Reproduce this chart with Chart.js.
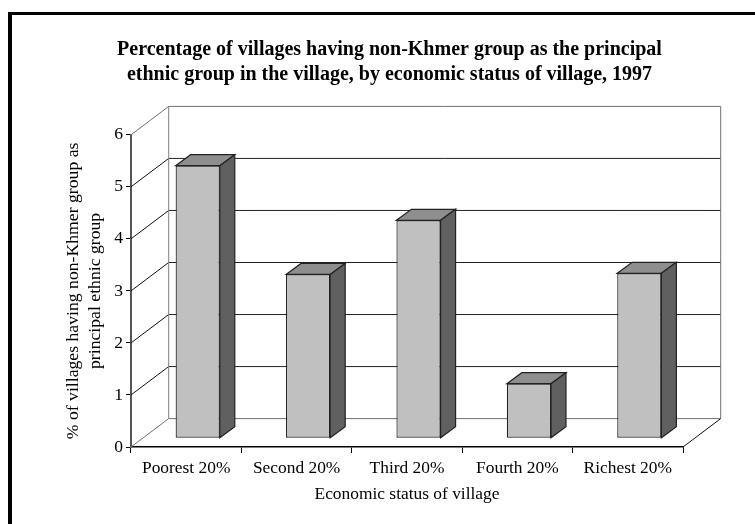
<!DOCTYPE html>
<html>
<head>
<meta charset="utf-8">
<script src="https://cdn.jsdelivr.net/npm/chart.js@4"></script>
<style>
    html, body { margin: 0; padding: 0; background: #fff; overflow: hidden; }
    #frame { position: absolute; left: 8px; top: 12px; right: 0; bottom: 0; border-left: 4px solid #000; border-top: 3px solid #000; }
    #chart-box { position: absolute; left: 0; top: 0; width: 755px; height: 524px; }
</style>
</head>
<body>
<div id="frame"></div>
<div id="chart-box"><canvas id="villages-chart" width="755" height="524"></canvas></div>
<script>
// --- Data ---
const categories = ['Poorest 20%', 'Second 20%', 'Third 20%', 'Fourth 20%', 'Richest 20%'];
const percentValues = [5.24, 3.15, 4.19, 1.05, 3.17];
const chartTitle = ['Percentage of villages having non-Khmer group as the principal', 'ethnic group in the village, by economic status of village, 1997'];
const xAxisTitle = 'Economic status of village';
const yAxisTitle = ['% of villages having non-Khmer group as', 'principal ethnic group'];

// --- 3D look ---
const wallDepth = { x: 37.7, y: 28.4 };
const barDepth = { x: 15, y: 11 };
const barShift = { x: 11.5, y: 8.7 };
const titleShift = 48;

const walls3d = {
    id: 'walls3d',
    afterLayout(chart) {
        chart.titleBlock.left += titleShift;
        chart.titleBlock.right += titleShift;
    },
    beforeDatasetsDraw(chart) {
        const { ctx, chartArea: area, scales: { y } } = chart;
        const backLeft = area.left + wallDepth.x;
        const backRight = area.right + wallDepth.x;
        const line = (x1, y1, x2, y2, color) => {
            ctx.strokeStyle = color;
            ctx.beginPath();
            ctx.moveTo(x1, y1);
            ctx.lineTo(x2, y2);
            ctx.stroke();
        };
        ctx.save();
        ctx.lineWidth = 1;
        y.ticks.forEach(tick => {
            const py = y.getPixelForValue(tick.value);
            const isEdge = tick.value === 0 || tick.value === 6;
            line(area.left, py, backLeft, py - wallDepth.y, isEdge ? '#707070' : '#111');
            line(backLeft, py - wallDepth.y, backRight, py - wallDepth.y, isEdge ? '#707070' : '#222');
        });
        const topBack = y.getPixelForValue(6) - wallDepth.y;
        const floorBack = y.getPixelForValue(0) - wallDepth.y;
        line(backLeft, topBack, backLeft, floorBack, '#808080');
        line(backRight, topBack, backRight, floorBack, '#707070');
        line(area.right, area.bottom, backRight, floorBack, '#111');
        ctx.restore();
        // bars stand in the middle of the floor
        ctx.save();
        ctx.translate(barShift.x, -barShift.y);
    },
    afterDatasetsDraw(chart) {
        const { ctx } = chart;
        chart.getDatasetMeta(0).data.forEach(bar => {
            const half = bar.width / 2;
            const left = bar.x - half;
            const right = bar.x + half;
            const face = (points, color) => {
                ctx.fillStyle = color;
                ctx.beginPath();
                points.forEach(([px, py], i) => i ? ctx.lineTo(px, py) : ctx.moveTo(px, py));
                ctx.closePath();
                ctx.fill();
                ctx.stroke();
            };
            ctx.lineWidth = 1.2;
            ctx.strokeStyle = '#222';
            face([[left, bar.y], [left + barDepth.x, bar.y - barDepth.y], [right + barDepth.x, bar.y - barDepth.y], [right, bar.y]], '#8E8E8E');
            face([[right, bar.y], [right + barDepth.x, bar.y - barDepth.y], [right + barDepth.x, bar.base - barDepth.y], [right, bar.base]], '#606060');
        });
        ctx.restore();
    }
};

// --- Chart ---
const serif = 'Liberation Serif';
new Chart(document.getElementById('villages-chart'), {
    type: 'bar',
    data: {
        labels: categories,
        datasets: [{
            data: percentValues,
            backgroundColor: '#C0C0C0',
            borderColor: '#222',
            borderWidth: 1.2,
            borderSkipped: false,
            barPercentage: 0.4,
            categoryPercentage: 1
        }]
    },
    options: {
        responsive: false,
        animation: false,
        layout: { padding: { top: 38, right: 72, left: 0, bottom: 0 } },
        plugins: {
            legend: { display: false },
            tooltip: { enabled: false },
            title: {
                display: true,
                text: chartTitle,
                color: '#000',
                font: { family: serif, size: 20, weight: 'bold', lineHeight: 1.22 },
                padding: { top: 0, bottom: 48 }
            }
        },
        scales: {
            x: {
                grid: { drawOnChartArea: false, drawTicks: true, tickLength: 6, tickColor: '#000', tickWidth: 1, offset: true },
                border: { color: '#000', width: 1.5 },
                ticks: { color: '#000', font: { family: serif, size: 17.4 }, padding: 5, maxRotation: 0 },
                title: { display: true, text: xAxisTitle, color: '#000', font: { family: serif, size: 17.4 }, padding: { top: 4, bottom: 19 } },
                afterFit(scale) { scale.height = 77; }
            },
            y: {
                min: 0,
                max: 6,
                grid: { drawOnChartArea: false, tickLength: 5, tickColor: '#000', tickWidth: 1 },
                border: { color: '#555', width: 2 },
                ticks: { stepSize: 1, color: '#000', font: { family: serif, size: 17.6 }, padding: 3 },
                title: { display: true, text: yAxisTitle, color: '#000', font: { family: serif, size: 17.7, lineHeight: 1.27 }, padding: { top: 62, bottom: 10 } },
                afterFit(scale) { scale.width = 131; }
            }
        }
    },
    plugins: [walls3d]
});
</script>
</body>
</html>
